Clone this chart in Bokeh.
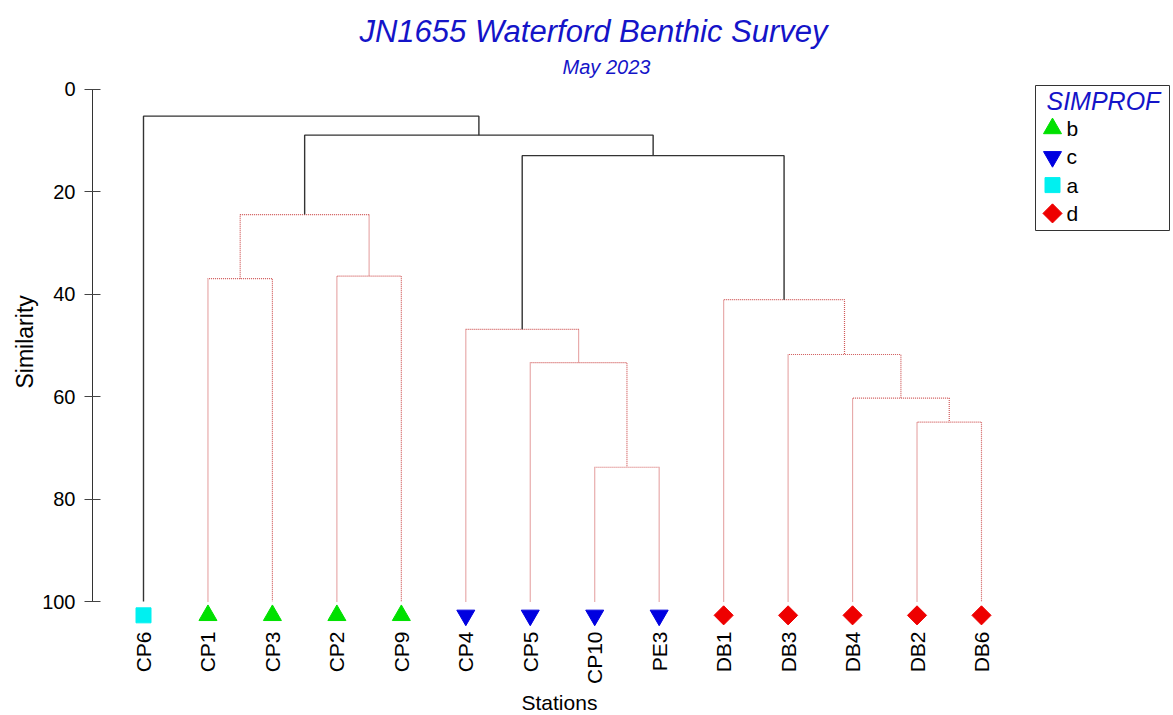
import math
from bokeh.plotting import figure
from bokeh.models import Range1d, FixedTicker, ColumnDataSource, Title
from bokeh.core.properties import value
from bokeh.embed import file_html
from bokeh.resources import INLINE

# ---------------- data ----------------
TITLE = "JN1655 Waterford Benthic Survey"
SUBTITLE = "May 2023"
LEGEND_TITLE = "SIMPROF"
X_LABEL = "Stations"
Y_LABEL = "Similarity"

stations = ["CP6", "CP1", "CP3", "CP2", "CP9", "CP4", "CP5", "CP10", "PE3",
            "DB1", "DB3", "DB4", "DB2", "DB6"]
station_group = ["a", "b", "b", "b", "b", "c", "c", "c", "c",
                 "d", "d", "d", "d", "d"]

# merges (node ids: stations 0..13, new clusters 14..26 in this order)
merge_left = [7, 12, 11, 6, 10, 5, 9, 1, 3, 21, 19, 23, 0]
merge_right = [8, 13, 15, 14, 16, 17, 18, 2, 4, 22, 20, 24, 25]
merge_similarity = [73.8, 65.0, 60.3, 53.4, 51.8, 46.9, 41.1, 37.0, 36.5,
                    24.5, 13.0, 9.0, 5.3]
merge_significant = [False, False, False, False, False, False, False, False,
                     False, False, True, True, True]

legend_groups = ["b", "c", "a", "d"]
y_ticks = [0, 20, 40, 60, 80, 100]
LEAF_SIMILARITY = 100

# ---------------- styles ----------------
FONT = "Liberation Sans"
TITLE_BLUE = "#1414c8"
group_marker = {"a": "square", "b": "triangle", "c": "inverted_triangle", "d": "square"}
group_color = {"a": "#00f0f0", "b": "#00e000", "c": "#0000e0", "d": "#ee0000"}
group_size = {"a": 15, "b": 18, "c": 18, "d": 13.5}
group_angle = {"a": 0.0, "b": 0.0, "c": 0.0, "d": math.pi / 4}
MARKER_Y = 102.7

# frame geometry (page pixels)
FRAME_LEFT, FRAME_TOP, FRAME_W, FRAME_H = 92, 0, 1078, 627
FIG_H = 715
LEAF0_PX, LEAF_STEP = 143, 64.46
ZERO_PX, PX_PER_UNIT = 88.5, 5.125

X_START = -(LEAF0_PX - FRAME_LEFT) / LEAF_STEP
X_END = X_START + FRAME_W / LEAF_STEP
Y_TOP = -(ZERO_PX - FRAME_TOP) / PX_PER_UNIT
Y_BOTTOM = Y_TOP + FRAME_H / PX_PER_UNIT


def px_x(px):
    return X_START + (px - FRAME_LEFT) / LEAF_STEP


def px_y(py):
    return Y_TOP + (py - FRAME_TOP) / PX_PER_UNIT


# ---------------- dendrogram geometry ----------------
node_x = [float(i) for i in range(len(stations))]
node_y = [float(LEAF_SIMILARITY)] * len(stations)
sig_xs, sig_ys, ns_xs, ns_ys = [], [], [], []
for l, r, h, s in zip(merge_left, merge_right, merge_similarity, merge_significant):
    xs = [node_x[l], node_x[l], node_x[r], node_x[r]]
    ys = [node_y[l], h, h, node_y[r]]
    if s:
        sig_xs.append(xs); sig_ys.append(ys)
    else:
        ns_xs.append(xs); ns_ys.append(ys)
    node_x.append((node_x[l] + node_x[r]) / 2)
    node_y.append(h)

p = figure(frame_width=FRAME_W, frame_height=FRAME_H,
           x_range=Range1d(X_START, X_END), y_range=Range1d(Y_BOTTOM, Y_TOP),
           output_backend="svg", toolbar_location=None,
           min_border_left=FRAME_LEFT, min_border_right=0, min_border_top=FRAME_TOP,
           min_border_bottom=FIG_H - FRAME_H - FRAME_TOP)
p.outline_line_color = None
p.grid.visible = False
p.background_fill_color = "white"
p.border_fill_color = "white"

p.multi_line(xs=ns_xs, ys=ns_ys, line_color="#d05858", line_width=1.2, line_dash="1 1")
p.multi_line(xs=sig_xs, ys=sig_ys, line_color="#333333", line_width=1.4)

leaf_src = ColumnDataSource(dict(
    x=list(range(len(stations))),
    y=[MARKER_Y] * len(stations),
    marker=[group_marker[g] for g in station_group],
    color=[group_color[g] for g in station_group],
    size=[group_size[g] for g in station_group],
    angle=[group_angle[g] for g in station_group],
))
p.scatter(x="x", y="y", marker="marker", size="size", angle="angle",
          fill_color="color", line_color="color", source=leaf_src)

# ---------------- axes ----------------
ya = p.yaxis[0]
ya.ticker = FixedTicker(ticks=y_ticks)
ya.bounds = (0, 100)
ya.major_label_text_font = FONT
ya.major_label_text_font_size = "20px"
ya.major_label_text_color = "black"
ya.major_label_standoff = 9
ya.major_tick_in = 8
ya.major_tick_out = 8
ya.minor_tick_line_color = None
ya.axis_line_color = "#333333"
ya.major_tick_line_color = "#444444"

xa = p.xaxis[0]
xa.ticker = FixedTicker(ticks=list(range(len(stations))))
xa.major_label_overrides = {i: s for i, s in enumerate(stations)}
xa.major_label_orientation = math.pi / 2
xa.bounds = (0, len(stations) - 1)
xa.axis_line_color = None
xa.major_tick_line_color = None
xa.minor_tick_line_color = None
xa.major_tick_out = 0
xa.major_tick_in = 0
xa.major_label_standoff = 4
xa.major_label_text_font = FONT
xa.major_label_text_font_size = "21px"
xa.major_label_text_color = "black"

# axis titles (side-panel titles, placed along the axis)
p.add_layout(Title(text=X_LABEL, align="left", offset=521 - FRAME_LEFT,
                   text_font=FONT, text_font_size="21px", text_font_style="normal",
                   text_color="black", standoff=3), "below")
p.add_layout(Title(text=Y_LABEL, align="left", offset=FRAME_H + FRAME_TOP - 388,
                   text_font=FONT, text_font_size="23px", text_font_style="normal",
                   text_color="black", standoff=4), "left")

# ---------------- titles ----------------
p.text(x=[px_x(593)], y=[px_y(31)], text=[TITLE], text_font=value(FONT),
       text_font_style="italic", text_font_size="31px", text_color=TITLE_BLUE,
       text_align="center", text_baseline="middle")
p.text(x=[px_x(606)], y=[px_y(66)], text=[SUBTITLE], text_font=value(FONT),
       text_font_style="italic", text_font_size="20px", text_color=TITLE_BLUE,
       text_align="center", text_baseline="middle")

# ---------------- legend (drawn box) ----------------
p.quad(left=[px_x(1035)], right=[px_x(1169)], top=[px_y(85)], bottom=[px_y(230)],
       fill_color="white", line_color="#333333", line_width=1)
p.text(x=[px_x(1046)], y=[px_y(100)], text=[LEGEND_TITLE], text_font=value(FONT),
       text_font_style="italic", text_font_size="25px", text_color=TITLE_BLUE,
       text_align="left", text_baseline="middle")
leg_y = [px_y(128 + 28.3 * i) for i in range(len(legend_groups))]
leg_src = ColumnDataSource(dict(
    x=[px_x(1052)] * len(legend_groups),
    y=leg_y,
    lx=[px_x(1066)] * len(legend_groups),
    label=legend_groups,
    marker=[group_marker[g] for g in legend_groups],
    color=[group_color[g] for g in legend_groups],
    size=[group_size[g] for g in legend_groups],
    angle=[group_angle[g] for g in legend_groups],
))
p.scatter(x="x", y="y", marker="marker", size="size", angle="angle",
          fill_color="color", line_color="color", source=leg_src)
p.text(x="lx", y="y", text="label", source=leg_src, text_font=value(FONT),
       text_font_size="21px", text_color="black", text_align="left",
       text_baseline="middle")

open("out.html", "w").write(file_html(p, INLINE))
